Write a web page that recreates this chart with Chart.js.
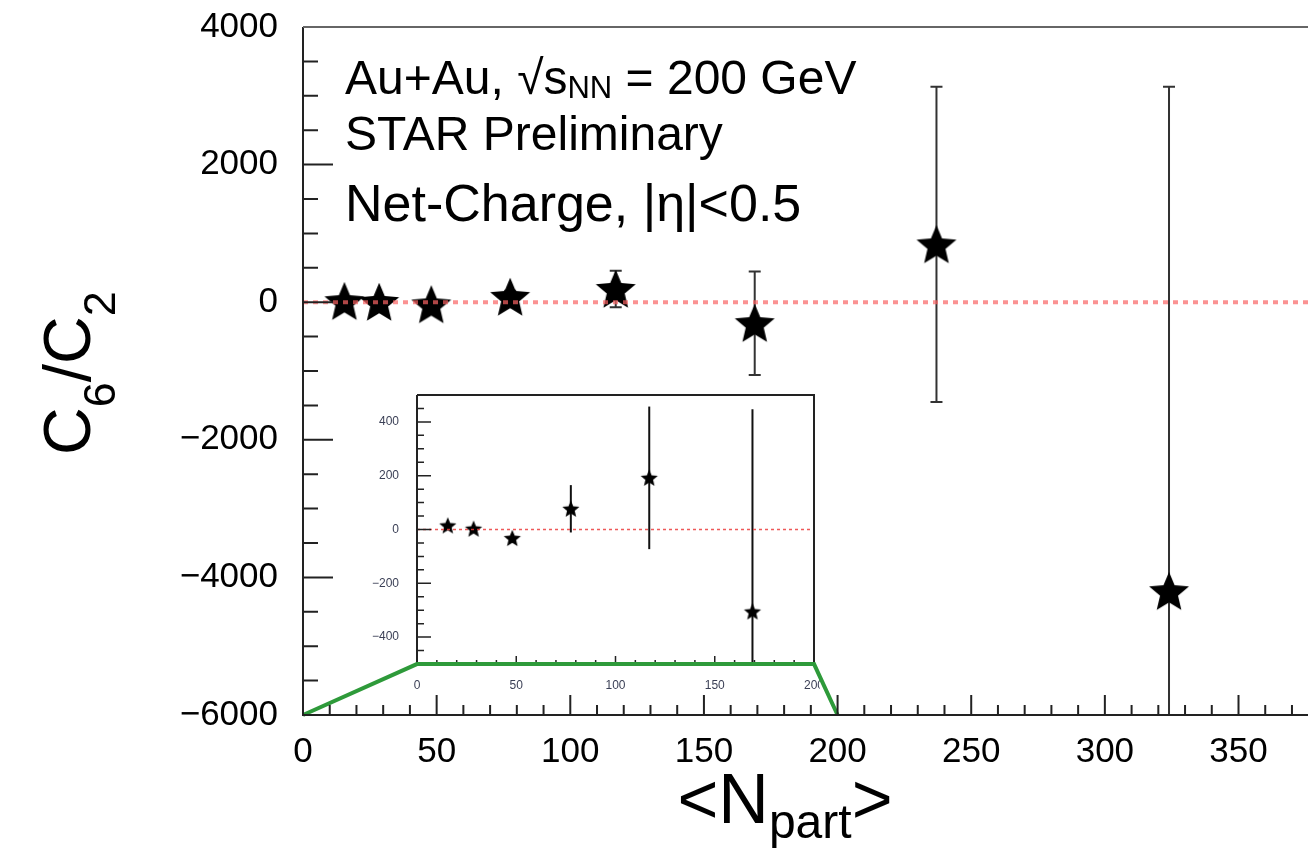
<!DOCTYPE html>
<html>
<head>
<meta charset="utf-8">
<title>C6/C2 vs Npart</title>
<script src="https://cdn.jsdelivr.net/npm/chart.js@4.4.1/dist/chart.umd.min.js"></script>
<style>
    html, body { margin: 0; padding: 0; background: #fff; }
    #wrap { position: relative; width: 1308px; height: 849px; overflow: hidden; }
    #mainChart { position: absolute; left: 0; top: 0; z-index: 2; }
    #insetChart { position: absolute; left: 360px; top: 380px; z-index: 1; }
</style>
</head>
<body>
<div id="wrap">
    <canvas id="insetChart" width="460" height="310"></canvas>
    <canvas id="mainChart" width="1308" height="849"></canvas>
</div>
<script>
// <Npart> of each centrality bin
const npart = [15.5, 28.5, 48, 77.5, 117, 169, 237, 324];
// C6/C2 and its statistical error
const c6c2 = [15, 3, -32, 77, 192, -305, 840, -4200];
const c6c2Err = [6, 6, 16, 88, 265, 752, 2290, 7330];

// tick labels
const mainXTicks = [0, 50, 100, 150, 200, 250, 300, 350];
const mainYTicks = [-6000, -4000, -2000, 0, 2000, 4000];
const insetXTicks = [0, 50, 100, 150, 200];
const insetYTicks = [-400, -200, 0, 200, 400];

// green zoom guide, in main plot units
const zoomLineX = [0, 42.6, 191.2, 200];
const zoomLineY = [-6000, -5260, -5260, -6000];

const X_MAX = 376;
const INSET_X_MAX = 200;
const FONT = '"Liberation Sans", Arial, Helvetica, sans-serif';

function makeStar(r, color) {
    const c = document.createElement('canvas');
    const size = Math.ceil(r * 2 + 4);
    c.width = size;
    c.height = size;
    const ctx = c.getContext('2d');
    const cx = size / 2, cy = size / 2 + r * 0.08;
    ctx.beginPath();
    for (let i = 0; i < 10; i++) {
        const rad = i % 2 === 0 ? r : r * 0.45;
        const a = -Math.PI / 2 + i * Math.PI / 5;
        ctx.lineTo(cx + rad * Math.cos(a), cy + rad * Math.sin(a));
    }
    ctx.closePath();
    ctx.fillStyle = color;
    ctx.fill();
    return c;
}

function fmt(v) {
    return v < 0 ? '\u2212' + Math.abs(v) : String(v);
}

// keep the plot frame exactly where the axis sizes put it
function noLabelPadding(s) {
    s.paddingTop = 0;
    s.paddingBottom = 0;
    s.paddingLeft = 0;
    s.paddingRight = 0;
}

// vertical error bars from the err field of each point
const errorBars = {
    id: 'errorBars',
    beforeDatasetsDraw(chart, args, opts) {
        const ds = chart.data.datasets[opts.dataset];
        const xs = chart.scales.x, ys = chart.scales.y;
        const area = chart.chartArea;
        const ctx = chart.ctx;
        ctx.save();
        ctx.beginPath();
        ctx.rect(area.left, area.top, area.right - area.left, area.bottom - area.top);
        ctx.clip();
        ctx.strokeStyle = opts.color;
        ctx.lineWidth = opts.width;
        ds.data.forEach(p => {
            const x = xs.getPixelForValue(p.x);
            const top = ys.getPixelForValue(p.y + p.err);
            const bot = ys.getPixelForValue(p.y - p.err);
            ctx.beginPath();
            ctx.moveTo(x, top);
            ctx.lineTo(x, bot);
            if (opts.cap) {
                ctx.moveTo(x - opts.cap / 2, top);
                ctx.lineTo(x + opts.cap / 2, top);
                ctx.moveTo(x - opts.cap / 2, bot);
                ctx.lineTo(x + opts.cap / 2, bot);
            }
            ctx.stroke();
        });
        ctx.restore();
    }
};

// ROOT style frame and inward ticks
const rootFrame = {
    id: 'rootFrame',
    afterDraw(chart, args, opts) {
        const ctx = chart.ctx;
        const a = chart.chartArea;
        const xs = chart.scales.x, ys = chart.scales.y;
        ctx.save();
        ctx.strokeStyle = opts.color;
        ctx.lineWidth = opts.width;
        ctx.beginPath();
        for (let v = xs.min; v <= xs.max + 1e-9; v += opts.xMinor) {
            const px = xs.getPixelForValue(v);
            const len = Math.abs(v % opts.xMajor) < 1e-9 ? opts.xMajorLen : opts.xMinorLen;
            ctx.moveTo(px, a.bottom);
            ctx.lineTo(px, a.bottom - len);
        }
        const y0 = Math.ceil(ys.min / opts.yMinor) * opts.yMinor;
        for (let v = y0; v <= ys.max + 1e-9; v += opts.yMinor) {
            const py = ys.getPixelForValue(v);
            const len = Math.abs(v % opts.yMajor) < 1e-9 ? opts.yMajorLen : opts.yMinorLen;
            ctx.moveTo(a.left, py);
            ctx.lineTo(a.left + len, py);
        }
        ctx.stroke();
        ctx.lineWidth = opts.frameWidth;
        ctx.beginPath();
        ctx.moveTo(a.left, a.top);
        ctx.lineTo(a.left, a.bottom);
        ctx.lineTo(a.right, a.bottom);
        ctx.stroke();
        ctx.strokeStyle = opts.topColor;
        ctx.beginPath();
        ctx.moveTo(a.left, a.top);
        ctx.lineTo(a.right, a.top);
        if (opts.box) ctx.lineTo(a.right, a.bottom);
        ctx.stroke();
        ctx.restore();
    }
};

function drawRich(ctx, x, y, parts, align) {
    let total = 0;
    parts.forEach(p => {
        ctx.font = p.size + 'px ' + FONT;
        total += ctx.measureText(p.text).width;
    });
    let cx = align === 'center' ? x - total / 2 : x;
    parts.forEach(p => {
        ctx.font = p.size + 'px ' + FONT;
        ctx.fillText(p.text, cx, y + (p.dy || 0));
        cx += ctx.measureText(p.text).width;
    });
}

const textLabels = {
    id: 'textLabels',
    afterDraw(chart) {
        const ctx = chart.ctx;
        ctx.save();
        ctx.fillStyle = '#000';
        ctx.textBaseline = 'alphabetic';
        ctx.textAlign = 'left';
        drawRich(ctx, 345, 94, [
            { text: 'Au+Au, \u221As', size: 48 },
            { text: 'NN', size: 31, dy: 4 },
            { text: ' = 200 GeV', size: 48 }
        ]);
        drawRich(ctx, 345, 150, [{ text: 'STAR Preliminary', size: 48 }]);
        drawRich(ctx, 345, 221, [{ text: 'Net-Charge, |\u03B7|<0.5', size: 52 }]);

        // x title
        drawRich(ctx, 785, 823, [
            { text: '<N', size: 70 },
            { text: 'part', size: 48, dy: 15 },
            { text: '>', size: 70 }
        ], 'center');

        // y title
        ctx.translate(90, 455);
        ctx.rotate(-Math.PI / 2);
        drawRich(ctx, 0, 0, [
            { text: 'C', size: 66 },
            { text: '6', size: 45, dy: 25 },
            { text: '/C', size: 66 },
            { text: '2', size: 45, dy: 25 }
        ]);
        ctx.restore();
    }
};

const points = npart.map((x, i) => ({ x: x, y: c6c2[i], err: c6c2Err[i] }));
const insetPoints = points.filter(p => p.x <= INSET_X_MAX);

new Chart(document.getElementById('mainChart'), {
    type: 'scatter',
    data: {
        datasets: [
            {
                type: 'line',
                data: [{ x: 0, y: 0 }, { x: X_MAX, y: 0 }],
                borderColor: 'rgba(250, 100, 100, 0.7)',
                borderWidth: 4,
                borderDash: [5, 5],
                pointRadius: 0
            },
            {
                type: 'line',
                data: zoomLineX.map((x, i) => ({ x: x, y: zoomLineY[i] })),
                borderColor: '#2e9a3a',
                borderWidth: 4,
                pointRadius: 0,
                clip: false
            },
            {
                data: points,
                pointStyle: makeStar(21, '#000'),
                pointRadius: 21
            }
        ]
    },
    options: {
        responsive: false,
        animation: false,
        events: [],
        layout: { padding: { top: 27, left: 0, right: 0, bottom: 0 }, autoPadding: false },
        plugins: {
            legend: { display: false },
            tooltip: { enabled: false },
            errorBars: { dataset: 2, color: '#333', width: 2, cap: 12 },
            rootFrame: {
                color: '#222', width: 2, frameWidth: 2, topColor: '#666', box: false,
                xMajor: 50, xMinor: 10, xMajorLen: 20, xMinorLen: 10,
                yMajor: 2000, yMinor: 500, yMajorLen: 30, yMinorLen: 15
            }
        },
        scales: {
            x: {
                type: 'linear', min: 0, max: X_MAX,
                grid: { display: false }, border: { display: false },
                ticks: { font: { family: FONT, size: 35 }, color: '#000', padding: 8, maxRotation: 0, autoSkip: false },
                afterBuildTicks: s => { s.ticks = mainXTicks.map(v => ({ value: v })); },
                afterFit: s => { s.height = 134; noLabelPadding(s); }
            },
            y: {
                type: 'linear', min: -6000, max: 4000,
                grid: { display: false }, border: { display: false },
                ticks: { font: { family: FONT, size: 35 }, color: '#000', padding: 17, autoSkip: false, callback: v => fmt(v) },
                afterBuildTicks: s => { s.ticks = mainYTicks.map(v => ({ value: v })); },
                afterFit: s => { s.width = 303; noLabelPadding(s); }
            }
        }
    },
    plugins: [errorBars, rootFrame, textLabels]
});

new Chart(document.getElementById('insetChart'), {
    type: 'scatter',
    data: {
        datasets: [
            {
                type: 'line',
                data: [{ x: 0, y: 0 }, { x: INSET_X_MAX, y: 0 }],
                borderColor: 'rgba(235, 60, 60, 0.85)',
                borderWidth: 1.5,
                borderDash: [3, 3],
                pointRadius: 0
            },
            {
                data: insetPoints,
                pointStyle: makeStar(9, '#000'),
                pointRadius: 9
            }
        ]
    },
    options: {
        responsive: false,
        animation: false,
        events: [],
        layout: { padding: { top: 15, left: 0, right: 6, bottom: 0 }, autoPadding: false },
        plugins: {
            legend: { display: false },
            tooltip: { enabled: false },
            errorBars: { dataset: 1, color: '#111', width: 2, cap: 0 },
            rootFrame: {
                color: '#222', width: 1.5, frameWidth: 2, topColor: '#222', box: true,
                xMajor: 50, xMinor: 10, xMajorLen: 8, xMinorLen: 4,
                yMajor: 200, yMinor: 50, yMajorLen: 14, yMinorLen: 7
            }
        },
        scales: {
            x: {
                type: 'linear', min: 0, max: INSET_X_MAX,
                grid: { display: false }, border: { display: false },
                ticks: { font: { family: FONT, size: 12 }, color: '#3a3f55', padding: 6, maxRotation: 0, autoSkip: false },
                afterBuildTicks: s => { s.ticks = insetXTicks.map(v => ({ value: v })); },
                afterFit: s => { s.height = 26; noLabelPadding(s); }
            },
            y: {
                type: 'linear', min: -500, max: 500,
                grid: { display: false }, border: { display: false },
                ticks: { font: { family: FONT, size: 12 }, color: '#3a3f55', padding: 10, autoSkip: false, callback: v => fmt(v) },
                afterBuildTicks: s => { s.ticks = insetYTicks.map(v => ({ value: v })); },
                afterFit: s => { s.width = 57; noLabelPadding(s); }
            }
        }
    },
    plugins: [errorBars, rootFrame]
});
</script>
</body>
</html>
